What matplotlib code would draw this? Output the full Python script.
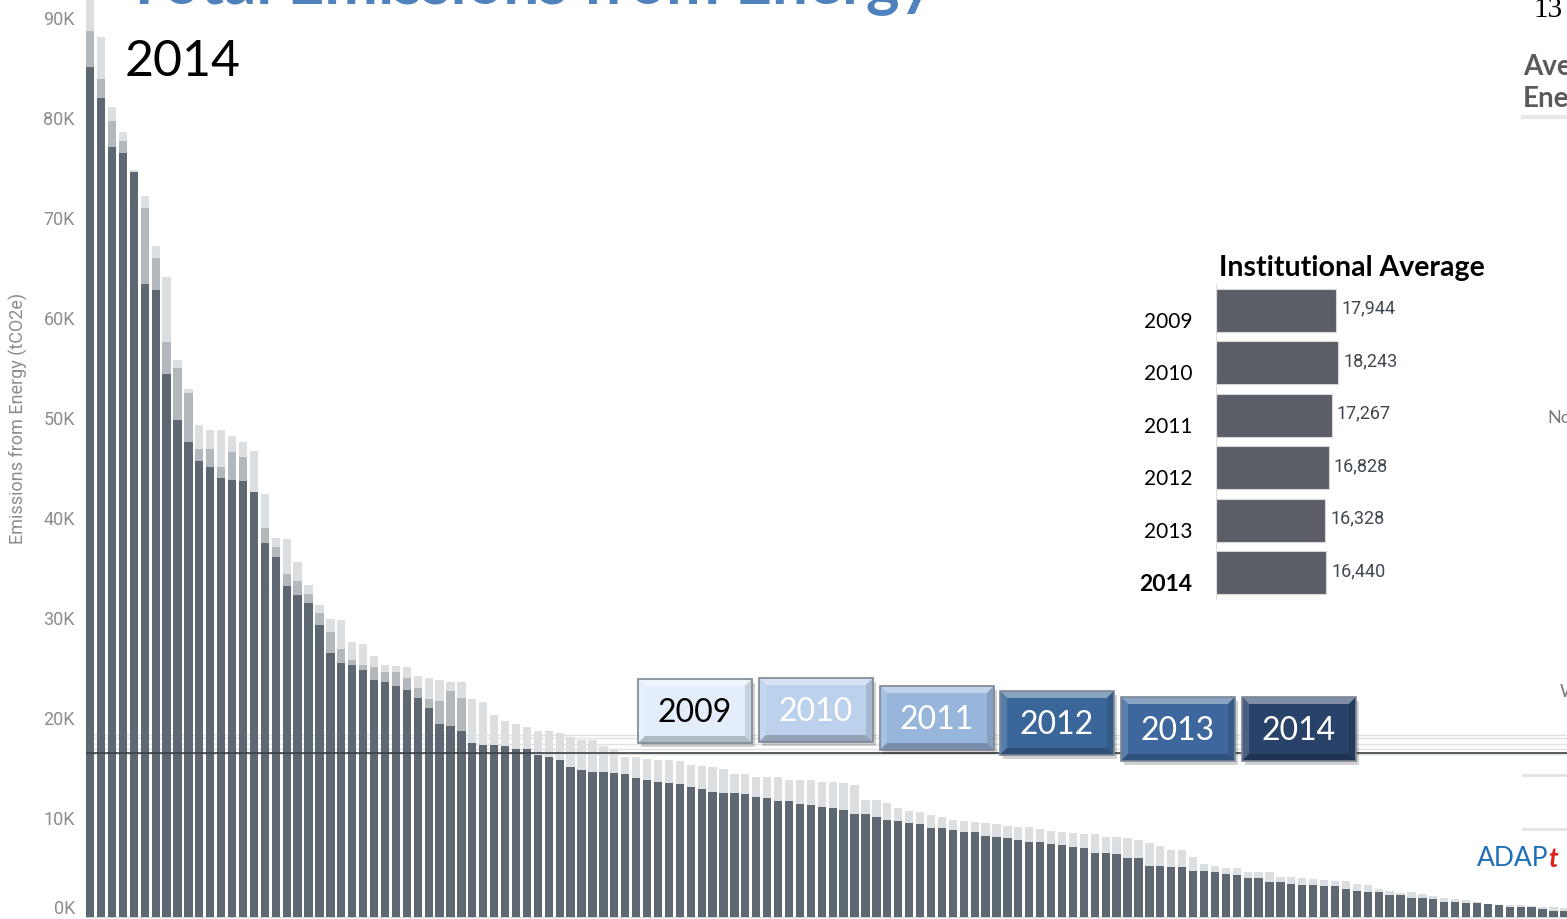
import numpy as np
import matplotlib.pyplot as plt
import matplotlib.colors as mcolors
import matplotlib.transforms as mtransforms
from matplotlib.patches import Rectangle, Polygon
from matplotlib.ticker import FuncFormatter

# emissions from energy per institution, thousands of tCO2e (sorted by 2014)
emis_2014 = [85.0, 81.9, 77.0, 76.4, 74.5, 63.3, 62.7, 54.3, 49.7, 47.5,
             45.6, 45.0, 43.9, 43.7, 43.6, 42.5, 37.4, 36.0, 33.1, 32.2,
             31.4, 29.2, 26.4, 25.4, 25.2, 24.7, 23.7, 23.5, 23.1, 22.7,
             21.9, 20.9, 19.3, 19.1, 18.6, 17.4, 17.2, 17.2, 17.1, 16.8,
             16.8, 16.2, 16.0, 15.7, 15.0, 14.7, 14.5, 14.5, 14.4, 14.3,
             13.9, 13.7, 13.5, 13.4, 13.3, 13.0, 12.8, 12.5, 12.4, 12.4,
             12.3, 12.0, 11.9, 11.6, 11.6, 11.3, 11.2, 11.0, 10.9, 10.7,
             10.3, 10.3, 10.0, 9.7, 9.6, 9.4, 9.3, 8.9, 8.9, 8.7,
             8.5, 8.5, 8.1, 8.0, 7.9, 7.7, 7.5, 7.5, 7.3, 7.2,
             7.0, 6.9, 6.4, 6.4, 6.3, 5.9, 5.9, 5.1, 5.1, 5.0,
             5.0, 4.6, 4.6, 4.5, 4.3, 4.2, 3.9, 3.9, 3.5, 3.5,
             3.3, 3.2, 3.2, 3.1, 3.1, 2.8, 2.6, 2.5, 2.5, 2.2,
             2.2, 1.9, 1.9, 1.8, 1.5, 1.5, 1.4, 1.4, 1.3, 1.2,
             1.0, 1.0, 1.0, 0.8, 0.6, 0.6]

# highest value of the earlier years (2009-2013)
prior_max = [94.0, 88.0, 81.0, 78.5, 74.7, 72.1, 67.1, 64.0, 55.7, 52.8,
             49.2, 48.7, 48.7, 48.1, 47.5, 46.6, 42.3, 37.9, 37.8, 35.5,
             33.2, 31.2, 29.8, 29.7, 27.5, 27.3, 26.1, 25.2, 25.1, 25.0,
             24.1, 23.9, 23.7, 23.5, 23.5, 21.8, 21.5, 20.2, 19.6, 19.3,
             19.0, 18.6, 18.6, 18.4, 18.0, 17.7, 17.7, 17.1, 16.8, 16.0,
             16.0, 15.8, 15.7, 15.7, 15.6, 15.2, 15.1, 15.0, 14.8, 14.3,
             14.3, 14.0, 14.0, 14.0, 13.7, 13.7, 13.7, 13.5, 13.5, 13.4,
             13.2, 11.7, 11.7, 11.4, 10.9, 10.6, 10.5, 10.2, 10.0, 9.7,
             9.6, 9.5, 9.4, 9.3, 9.1, 9.0, 9.0, 8.8, 8.6, 8.5,
             8.4, 8.3, 8.3, 8.0, 8.0, 7.9, 7.7, 7.4, 7.1, 6.7,
             6.7, 6.0, 5.3, 5.1, 4.9, 4.9, 4.5, 4.5, 4.5, 4.0,
             4.0, 3.9, 3.8, 3.7, 3.6, 3.6, 3.3, 3.2, 2.8, 2.6,
             2.4, 2.5, 2.3, 2.1, 1.9, 1.8, 1.7, 1.5, 1.3, 1.2,
             1.2, 1.2, 1.1, 1.0, 1.0, 0.9]

# overlapping middle band of earlier years (largest institutions)
prior_mid = [88.6, 83.8, 79.6, 77.6, 74.5, 70.9, 65.9, 57.5, 54.9, 52.4,
             46.8, 46.8, 45.0, 46.5, 46.0, 42.5, 38.9, 37.0, 34.3, 33.6,
             32.3, 30.4, 28.5, 26.8, 25.7, 25.2, 25.0, 24.5, 24.5, 23.9,
             22.9, 21.8, 21.6, 22.6, 21.9]

years = ['2009', '2010', '2011', '2012', '2013', '2014']
inst_avg = [17944, 18243, 17267, 16828, 16328, 16440]
button_face = ['#e3eefa', '#bcd1ec', '#98b6dc', '#3b6699', '#3e689d', '#29426a']
button_text = ['black', 'white', 'white', 'white', 'white', 'white']

W, H = 1567, 920
fig = plt.figure(figsize=(W / 100, H / 100), dpi=100)
plt.rcParams['font.family'] = ['Lato', 'DejaVu Sans']


def px_axes(x0, y0, x1, y1):
    # box given in pixels, origin top-left
    return fig.add_axes([x0 / W, 1 - y1 / H, (x1 - x0) / W, (y1 - y0) / H])


def mix(c, other, t):
    a = np.array(mcolors.to_rgb(c))
    b = np.array(mcolors.to_rgb(other))
    return tuple(a * (1 - t) + b * t)


# ---- main bar chart ----
ax = px_axes(86, 0, W, 918)
x = np.arange(len(emis_2014))
bw = 0.76
ax.bar(x, prior_max, width=bw, align='edge', color='#dcdfe2', zorder=2)
ax.bar(x[:len(prior_mid)], prior_mid, width=bw, align='edge', color='#b3b8bd', zorder=3)
ax.bar(x, emis_2014, width=bw, align='edge', color='#5e6872', zorder=4)

for yr, v in zip(years, inst_avg):
    if yr == '2014':
        ax.axhline(v / 1000, color='#3a3f44', lw=1.2, zorder=6)
    else:
        ax.axhline(v / 1000, color='#e0e0e0', lw=1.0, zorder=1)

ax.set_xlim(0, (W - 86) / 10.92)
ax.set_ylim(0, 91.8)
ax.set_yticks(range(0, 91, 10))
ax.yaxis.set_major_formatter(FuncFormatter(lambda v, p: f'{int(v)}K'))
ax.set_xticks([])
ax.tick_params(axis='y', length=0, pad=8, labelsize=13, labelcolor='#8c8c8c')
for lab in ax.get_yticklabels():
    lab.set_family(['Roboto', 'DejaVu Sans'])
ax.get_yticklabels()[0].set_va('bottom')
for s in ['top', 'right', 'left']:
    ax.spines[s].set_visible(False)
ax.spines['bottom'].set_color('#d0d0d0')
fig.text(18 / W, 1 - 418 / H, 'Emissions from Energy (tCO2e)', rotation=90,
         ha='center', va='center', fontsize=13, color='#8c8c8c', family=['Roboto', 'DejaVu Sans'])

# ---- institutional average inset ----
ax2 = px_axes(1216, 285, 1500, 600)
yy = np.arange(len(years))
ax2.barh(yy, inst_avg, height=0.82, color='#5b5e66', edgecolor='#d8d8d8', lw=0.8)
ax2.set_xlim(0, 284 / 0.00669)
ax2.set_ylim(5.5, -0.5)
ax2.set_xticks([])
ax2.set_yticks(yy)
ax2.set_yticklabels(years)
ax2.tick_params(axis='y', length=0, pad=17, labelsize=15)
shift = mtransforms.ScaledTranslation(0, -6 / 72, fig.dpi_scale_trans)
for lab in ax2.get_yticklabels():
    lab.set_transform(lab.get_transform() + shift)
ax2.get_yticklabels()[-1].set_weight('bold')
ax2.get_yticklabels()[-1].set_fontsize(16.5)
for i, v in enumerate(inst_avg):
    ax2.text(v + 750, i - 0.05, f'{v:,}', va='center', ha='left', fontsize=13,
             color='#3f4750', family=['Roboto', 'DejaVu Sans'])
for s in ['top', 'right', 'bottom']:
    ax2.spines[s].set_visible(False)
ax2.spines['left'].set_color('#dcdcdc')
ax2.patch.set_alpha(0)
fig.text(1219 / W, 1 - 268 / H, 'Institutional Average', ha='left', va='center',
         fontsize=20.5, weight='bold')

# ---- overlay: year buttons and slide fragments ----
ov = fig.add_axes([0, 0, 1, 1])
ov.set_xlim(0, W)
ov.set_ylim(H, 0)
ov.axis('off')
ov.set_zorder(10)

btn_x = [638, 759, 880, 1000, 1121, 1242]
btn_y = [680, 679, 687, 692, 698, 698]
bwid, bhgt, bev = 114, 64, 7
for yr, bx, by, fc, tc in zip(years, btn_x, btn_y, button_face, button_text):
    x0, y0, x1, y1 = bx, by, bx + bwid, by + bhgt
    ov.add_patch(Rectangle((x0 + 3, y0 + 4), bwid, bhgt, color='black', alpha=0.18, lw=0))
    ov.add_patch(Rectangle((x0, y0), bwid, bhgt, facecolor=fc, lw=0))
    ov.add_patch(Polygon([(x0, y0), (x1, y0), (x1 - bev, y0 + bev), (x0 + bev, y0 + bev)],
                         facecolor=mix(fc, 'white', 0.4), lw=0))
    ov.add_patch(Polygon([(x0, y0), (x0 + bev, y0 + bev), (x0 + bev, y1 - bev), (x0, y1)],
                         facecolor=mix(fc, 'white', 0.15), lw=0))
    ov.add_patch(Polygon([(x1, y0), (x1 - bev, y0 + bev), (x1 - bev, y1 - bev), (x1, y1)],
                         facecolor=mix(fc, 'black', 0.12), lw=0))
    ov.add_patch(Polygon([(x0, y1), (x0 + bev, y1 - bev), (x1 - bev, y1 - bev), (x1, y1)],
                         facecolor=mix(fc, 'black', 0.22), lw=0))
    ov.add_patch(Rectangle((x0, y0), bwid, bhgt, facecolor='none', edgecolor='#7d8794', lw=1.2))
    ov.text(bx + bwid / 2, by + bhgt / 2 + 1, yr, ha='center', va='center',
            fontsize=23, color=tc)

ov.text(125, 3, 'Total Emissions from Energy', ha='left', va='baseline',
        fontsize=46, weight='bold', color='#4f81bd')
ov.text(125, 76, '2014', ha='left', va='baseline', fontsize=36, color='black')
ov.text(1533, 17, '13', ha='left', va='baseline', fontsize=21, color='black',
        family=['Liberation Serif', 'DejaVu Serif'])
ov.text(1523, 75, 'Ave', ha='left', va='baseline', fontsize=20, weight='bold', color='#5a5a5a')
ov.text(1523, 107, 'Ene', ha='left', va='baseline', fontsize=20, weight='bold', color='#5a5a5a')
ov.plot([1523, W], [118, 118], color='#e8e8e8', lw=3)
ov.text(1547, 418, 'No', ha='left', va='center', fontsize=13, color='#7a7a7a')
ov.text(1560, 692, 'W', ha='left', va='center', fontsize=13, color='#7a7a7a')
ov.plot([1523, W], [776, 776], color='#e2e2e2', lw=2)
ov.plot([1523, W], [830, 830], color='#e2e2e2', lw=2)
ov.add_patch(Rectangle((1472, 835), W - 1472, 40, facecolor='white', lw=0))
adap = ov.text(1477, 866, 'ADAP', ha='left', va='baseline', fontsize=19, color='#1f6fb5')
ov.annotate('t', xy=(1, 0), xycoords=adap, ha='left', va='bottom', fontsize=19,
            color='#e02020', style='italic', weight='bold')

fig.savefig('out.png', dpi=100)
